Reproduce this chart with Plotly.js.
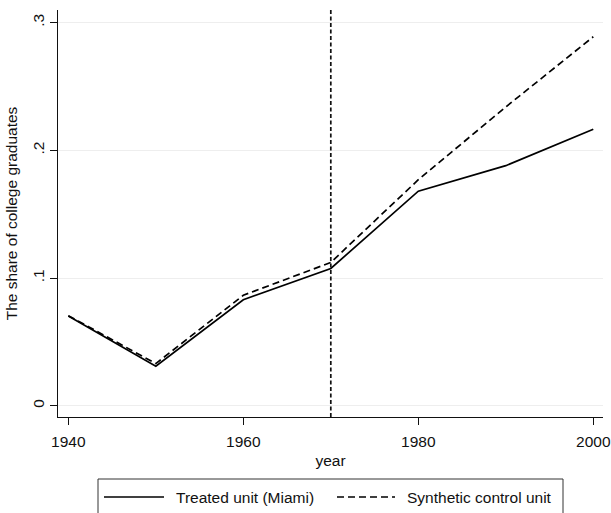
<!DOCTYPE html>
<html>
<head>
<meta charset="utf-8">
<script src="https://cdn.plot.ly/plotly-3.0.1.min.js"></script>
<style>html,body{margin:0;padding:0;background:#fff;}#chart{width:611px;height:513px;}</style>
</head>
<body>
<div id="chart"></div>
<script>
const years = [1940, 1950, 1960, 1970, 1980, 1990, 2000];
const treated = [0.0702, 0.0310, 0.0830, 0.1075, 0.1680, 0.1880, 0.2165];
const synthetic = [0.0705, 0.0330, 0.0865, 0.1122, 0.1770, 0.2340, 0.2890];
const seriesNames = ["Treated unit (Miami)", "Synthetic control unit"];
const treatmentYear = 1970;
const xTicks = [1940, 1960, 1980, 2000];
const yTicks = [0, 0.1, 0.2, 0.3];
const yTickLabels = ["0", ".1", ".2", ".3"];

const FONT = "Arial, 'Liberation Sans', Helvetica, sans-serif";
const FS = 15.5;
const TXT = "#111";

const traces = [
  {x: years, y: treated, name: seriesNames[0], mode: "lines", type: "scatter",
   line: {color: "#000", width: 1.7}, showlegend: false, hoverinfo: "x+y"},
  {x: years, y: synthetic, name: seriesNames[1], mode: "lines", type: "scatter",
   line: {color: "#000", width: 1.7, dash: "7px,4px"}, showlegend: false, hoverinfo: "x+y"}
];

// plot area in px: x 58..603, y 10..417
const PL = 58, PR = 603, PT = 10, PB = 417;
const px = v => (v - PL) / (PR - PL);
const py = v => (PB - v) / (PB - PT);

const legY = py(497);
const shapes = [
  {type: "line", xref: "x", yref: "paper", x0: treatmentYear, x1: treatmentYear, y0: 0, y1: 1,
   line: {color: "#111", width: 1.7, dash: "4px,2.5px"}},
  {type: "rect", xref: "paper", yref: "paper", x0: px(98), x1: px(563), y0: py(479), y1: py(530),
   line: {color: "#333", width: 1}, fillcolor: "rgba(0,0,0,0)"},
  {type: "line", xref: "paper", yref: "paper", x0: px(104), x1: px(164), y0: legY, y1: legY,
   line: {color: "#000", width: 1.7}},
  {type: "line", xref: "paper", yref: "paper", x0: px(337), x1: px(395), y0: legY, y1: legY,
   line: {color: "#000", width: 1.7, dash: "7px,4px"}}
];

const annotations = [
  {xref: "paper", yref: "paper", x: px(174), y: legY, xanchor: "left", yanchor: "middle",
   text: seriesNames[0], showarrow: false, font: {family: FONT, size: FS, color: TXT}},
  {xref: "paper", yref: "paper", x: px(405), y: legY, xanchor: "left", yanchor: "middle",
   text: seriesNames[1], showarrow: false, font: {family: FONT, size: FS, color: TXT}}
];

const layout = {
  width: 611, height: 513,
  margin: {l: PL, r: 611 - PR, t: PT, b: 513 - PB, autoexpand: false},
  paper_bgcolor: "#fff", plot_bgcolor: "#fff",
  font: {family: FONT, size: FS, color: TXT},
  showlegend: false,
  xaxis: {
    range: [1938.82, 2001.11], tickmode: "array", tickvals: xTicks,
    ticks: "outside", ticklen: 7, tickwidth: 1, tickcolor: "#111", ticklabelstandoff: 3,
    showline: true, linecolor: "#111", linewidth: 1.2, showgrid: false, zeroline: false,
    tickfont: {family: FONT, size: FS, color: TXT},
    title: {text: "year", font: {family: FONT, size: FS, color: TXT}, standoff: 6}
  },
  yaxis: {
    range: [-0.00885, 0.30995], tickmode: "array", tickvals: yTicks, ticktext: yTickLabels,
    ticks: "outside", ticklen: 7, tickwidth: 1, tickcolor: "#111", tickangle: -90,
    showline: true, linecolor: "#111", linewidth: 1.2,
    showgrid: true, gridcolor: "#eeeeee", gridwidth: 1, zeroline: false,
    tickfont: {family: FONT, size: FS, color: TXT},
    title: {text: "The share of college graduates", font: {family: FONT, size: FS, color: TXT}, standoff: 8}
  },
  shapes: shapes,
  annotations: annotations
};

Plotly.newPlot("chart", traces, layout, {displayModeBar: false, staticPlot: true});
</script>
</body>
</html>
